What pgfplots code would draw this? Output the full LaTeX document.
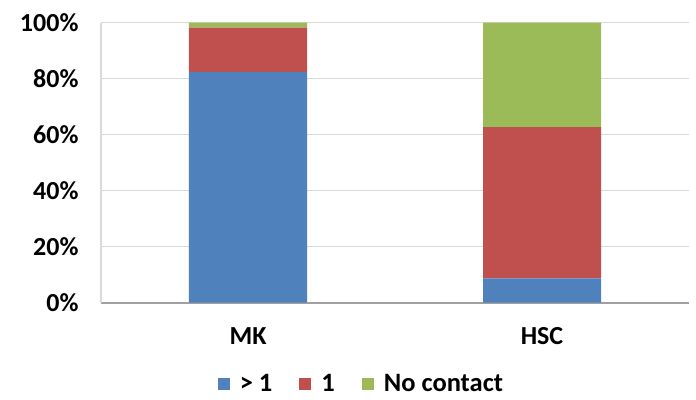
\documentclass[border=0pt]{standalone}
\usepackage{pgfplots}
\pgfplotsset{compat=1.18}
\usepackage{fontspec}
\setmainfont{Carlito}
\definecolor{cblue}{HTML}{4F81BD}
\definecolor{cred}{HTML}{C0504D}
\definecolor{cgreen}{HTML}{9BBB59}
\definecolor{cgrid}{HTML}{D9D9D9}
\definecolor{caxis}{HTML}{A0A0A0}
\begin{document}
\begin{tikzpicture}
\useasboundingbox (-101bp,-97.3bp) rectangle (595bp,302.7bp);
\begin{axis}[
  at={(0bp,0bp)}, anchor=south west,
  scale only axis,
  width=588bp, height=280bp,
  ybar stacked,
  bar width=118bp,
  xmin=-0.5, xmax=1.5,
  ymin=0, ymax=100,
  xtick={0,1}, xticklabels={MK,HSC},
  ytick={0,20,40,60,80,100},
  yticklabels={0\%,20\%,40\%,60\%,80\%,100\%},
  ymajorgrids,
  grid style={draw=cgrid, line width=1.2bp},
  axis x line=bottom, axis y line=left,
  x axis line style={draw=caxis, line width=1.6bp, -},
  y axis line style={draw=cgrid, line width=1.2bp, -},
  major tick length=0pt,
  tick label style={font=\bfseries\fontsize{26bp}{29bp}\selectfont},
  yticklabel style={xshift=-19bp},
  xticklabel style={yshift=-21bp},
  legend columns=3,
  legend style={draw=none, fill=none, at={(0.442,-0.29)}, anchor=center,
    inner sep=0pt, outer sep=0pt,
    nodes={inner sep=1bp},
    font=\bfseries\fontsize{26.5bp}{29bp}\selectfont,
    /tikz/every odd column/.append style={column sep=9bp},
    /tikz/every even column/.append style={column sep=26bp}},
  legend image code/.code={\fill[#1] (0bp,-6bp) rectangle (12bp,6bp);},
  clip=false,
]
\addplot[fill=cblue, draw=none] coordinates {(0,82.4) (1,8.7)};
\addplot[fill=cred, draw=none] coordinates {(0,15.8) (1,54.0)};
\addplot[fill=cgreen, draw=none] coordinates {(0,1.8) (1,37.3)};
\legend{> 1, 1, No contact}
\end{axis}
\end{tikzpicture}
\end{document}
